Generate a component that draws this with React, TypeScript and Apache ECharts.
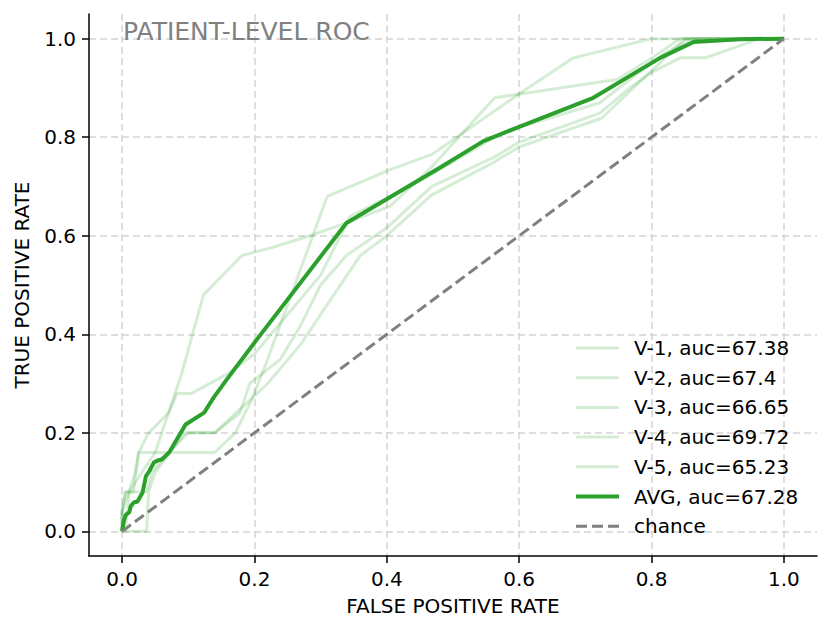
import React, { useEffect, useRef } from "react";
import * as echarts from "echarts";

const FONT = "DejaVu Sans";

const seriesNames = [
  "V-1, auc=67.38",
  "V-2, auc=67.4",
  "V-3, auc=66.65",
  "V-4, auc=69.72",
  "V-5, auc=65.23",
  "AVG, auc=67.28",
  "chance",
];

const tickValues = [0, 0.2, 0.4, 0.6, 0.8, 1.0];

const fprV1 = [0, 0, 0.01, 0.02, 0.025, 0.14, 0.171, 0.196, 0.216, 0.31, 0.405, 0.468, 0.598, 0.682, 0.8, 1];
const tprV1 = [0, 0.04, 0.08, 0.12, 0.16, 0.16, 0.2, 0.268, 0.335, 0.68, 0.734, 0.765, 0.886, 0.961, 1, 1];

const fprV2 = [0, 0.005, 0.011, 0.03, 0.05, 0.07, 0.083, 0.105, 0.16, 0.2, 0.25, 0.3, 0.345, 0.42, 0.468, 0.563, 0.6, 0.722, 0.767, 0.82, 0.86, 1];
const tprV2 = [0, 0, 0.08, 0.12, 0.16, 0.24, 0.28, 0.28, 0.32, 0.36, 0.44, 0.52, 0.64, 0.69, 0.725, 0.8, 0.82, 0.87, 0.917, 0.97, 1, 1];

const fprV3 = [0, 0, 0.005, 0.037, 0.045, 0.07, 0.1, 0.14, 0.18, 0.22, 0.27, 0.31, 0.36, 0.4, 0.468, 0.563, 0.6, 0.725, 0.767, 0.82, 0.85, 1];
const tprV3 = [0, 0.04, 0.08, 0.08, 0.12, 0.16, 0.2, 0.2, 0.25, 0.3, 0.38, 0.46, 0.56, 0.6, 0.683, 0.75, 0.78, 0.839, 0.893, 0.96, 1, 1];

const fprV4 = [0, 0, 0.005, 0.017, 0.025, 0.04, 0.07, 0.09, 0.123, 0.181, 0.224, 0.284, 0.339, 0.405, 0.468, 0.563, 0.748, 0.8, 0.843, 1];
const tprV4 = [0, 0.04, 0.08, 0.08, 0.16, 0.2, 0.24, 0.32, 0.48, 0.56, 0.575, 0.6, 0.626, 0.66, 0.74, 0.88, 0.917, 0.96, 1, 1];

const fprV5 = [0, 0.037, 0.04, 0.05, 0.095, 0.14, 0.178, 0.193, 0.239, 0.269, 0.3, 0.339, 0.4, 0.468, 0.563, 0.6, 0.722, 0.767, 0.798, 0.843, 0.881, 0.964, 1];
const tprV5 = [0, 0, 0.08, 0.12, 0.2, 0.2, 0.24, 0.3, 0.349, 0.416, 0.5, 0.56, 0.616, 0.7, 0.76, 0.79, 0.849, 0.9, 0.93, 0.961, 0.961, 1, 1];

const fprAvg = [0, 0.003, 0.006, 0.011, 0.013, 0.018, 0.023, 0.031, 0.036, 0.041, 0.048, 0.056, 0.06, 0.071, 0.096, 0.124, 0.138, 0.158, 0.2, 0.339, 0.48, 0.546, 0.596, 0.712, 0.813, 0.863, 0.934, 1];
const tprAvg = [0, 0.024, 0.034, 0.039, 0.051, 0.059, 0.06, 0.079, 0.112, 0.122, 0.14, 0.145, 0.146, 0.16, 0.217, 0.241, 0.271, 0.308, 0.383, 0.626, 0.738, 0.792, 0.819, 0.88, 0.961, 0.993, 0.999, 1];

const fprChance = [0, 1];
const tprChance = [0, 1];

const zip = (xs: number[], ys: number[]) => xs.map((x, i) => [x, ys[i]]);

const LIGHT = "rgba(44,160,44,0.2)";
const GREEN = "#2ca02c";
const GRAY = "#808080";

const ICON_LIGHT = "path://M0,0h43v3h-43z";
const ICON_AVG = "path://M0,0h43v4h-43z";
const ICON_DASH = "path://M0,0h11v3h-11zM16,0h11v3h-11zM32,0h11v3h-11z";

export default function App() {
  const ref = useRef<HTMLDivElement>(null);

  useEffect(() => {
    if (!ref.current) return;
    const chart = echarts.init(ref.current, undefined, { renderer: "svg" });

    const folds = [
      zip(fprV1, tprV1),
      zip(fprV2, tprV2),
      zip(fprV3, tprV3),
      zip(fprV4, tprV4),
      zip(fprV5, tprV5),
    ];

    const series: any[] = folds.map((d, i) => ({
      name: seriesNames[i],
      type: "line",
      data: d,
      symbol: "none",
      showSymbol: false,
      lineStyle: { color: LIGHT, width: 3 },
      itemStyle: { color: LIGHT },
      emphasis: { disabled: true },
      z: 2,
    }));
    series.push({
      name: seriesNames[5],
      type: "line",
      data: zip(fprAvg, tprAvg),
      symbol: "none",
      showSymbol: false,
      lineStyle: { color: GREEN, width: 4 },
      itemStyle: { color: GREEN },
      emphasis: { disabled: true },
      z: 3,
    });
    series.push({
      name: seriesNames[6],
      type: "line",
      data: zip(fprChance, tprChance),
      symbol: "none",
      showSymbol: false,
      lineStyle: { color: GRAY, width: 3, type: [11, 5] },
      itemStyle: { color: GRAY },
      emphasis: { disabled: true },
      z: 4,
    });

    const axisCommon = {
      type: "value",
      min: -0.05,
      max: 1.05,
      nameLocation: "middle",
      nameTextStyle: { color: "#000", fontSize: 20, fontFamily: FONT },
      axisLine: { show: true, onZero: false, lineStyle: { color: "#000", width: 1.5 } },
      axisTick: { show: true, length: 7, customValues: tickValues, lineStyle: { color: "#000", width: 1.5 } },
      axisLabel: {
        customValues: tickValues,
        formatter: (v: number) => v.toFixed(1),
        color: "#000",
        fontSize: 20,
        fontFamily: FONT,
      },
      splitLine: { show: true, lineStyle: { color: "#d4d4d4", width: 1.5, type: [7, 4] } },
    };

    const legendData = seriesNames.map((name, i) => ({
      name,
      icon: i < 5 ? ICON_LIGHT : i === 5 ? ICON_AVG : ICON_DASH,
    }));

    chart.setOption({
      animation: false,
      backgroundColor: "#ffffff",
      title: {
        text: "PATIENT-LEVEL ROC",
        left: 118,
        top: 14,
        textStyle: { color: GRAY, fontSize: 25, fontWeight: "normal", fontFamily: FONT },
      },
      grid: { left: 89, right: 14, top: 14, bottom: 77 },
      legend: {
        orient: "vertical",
        left: 571,
        top: 333,
        itemWidth: 43,
        itemHeight: 20,
        itemGap: 9.7,
        selectedMode: false,
        textStyle: { fontSize: 20, color: "#000", fontFamily: FONT, padding: [0, 0, 0, 10] },
        data: legendData,
      },
      xAxis: {
        ...axisCommon,
        name: "FALSE POSITIVE RATE",
        nameGap: 40,
        axisLabel: { ...axisCommon.axisLabel, margin: 13 },
      },
      yAxis: {
        ...axisCommon,
        name: "TRUE POSITIVE RATE",
        nameGap: 57,
        axisLabel: { ...axisCommon.axisLabel, margin: 13 },
      },
      series,
    });

    return () => chart.dispose();
  }, []);

  return (
    <div
      ref={ref}
      style={{ position: "fixed", left: 0, top: 0, width: 831, height: 633, background: "#fff" }}
    />
  );
}
